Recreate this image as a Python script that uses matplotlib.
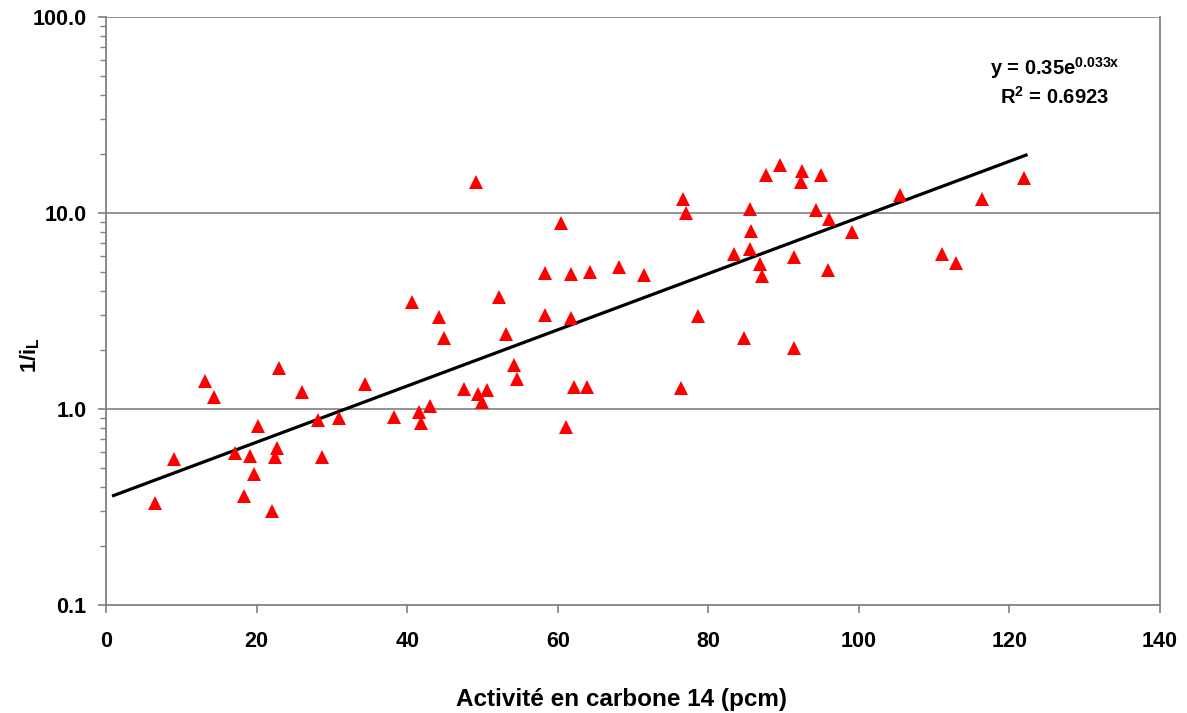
import numpy as np
import matplotlib
matplotlib.use("Agg")
import matplotlib.pyplot as plt
from matplotlib.ticker import FixedLocator, LogLocator, NullFormatter, FixedFormatter

plt.rcParams['font.family'] = ['Liberation Sans', 'DejaVu Sans']
plt.rcParams['mathtext.fontset'] = 'custom'
plt.rcParams['mathtext.rm'] = 'Liberation Sans'
plt.rcParams['mathtext.bf'] = 'Liberation Sans:bold'
plt.rcParams['mathtext.it'] = 'Liberation Sans:italic'

# Data: 14C activity (pcm) vs 1/iL
activite = [6.5, 9.0, 13.1, 14.3, 17.1, 18.3, 19.1, 19.7, 20.2, 22.1,
            22.4, 22.7, 23.0, 26.1, 28.1, 28.7, 30.9, 34.4, 38.2, 40.6,
            41.6, 41.8, 43.0, 44.2, 44.9, 47.5, 49.1, 49.4, 50.0, 50.6,
            52.2, 53.1, 54.2, 54.6, 58.3, 58.3, 60.4, 61.1, 61.7, 61.8,
            62.2, 63.9, 64.3, 68.2, 71.4, 76.4, 76.6, 77.1, 78.7, 83.4,
            84.8, 85.5, 85.7, 85.6, 86.9, 87.2, 87.7, 89.5, 91.4, 91.4,
            92.3, 92.5, 95.0, 94.3, 96.1, 95.9, 99.1, 105.4, 111.0, 112.9,
            116.3, 122.0]
inv_iL = [0.333, 0.554, 1.39, 1.15, 0.598, 0.360, 0.575, 0.464, 0.819, 0.303,
          0.571, 0.630, 1.625, 1.22, 0.879, 0.571, 0.897, 1.34, 0.907, 3.50,
          0.969, 0.845, 1.03, 2.94, 2.30, 1.26, 14.4, 1.19, 1.09, 1.25,
          3.74, 2.41, 1.68, 1.42, 3.02, 4.96, 8.86, 0.812, 2.92, 4.91,
          1.29, 1.30, 5.01, 5.28, 4.83, 1.28, 11.76, 10.03, 2.98, 6.18,
          2.30, 10.48, 8.13, 6.55, 5.49, 4.78, 15.7, 17.6, 5.94, 2.04,
          14.4, 16.3, 15.7, 10.36, 9.29, 5.12, 8.03, 12.4, 6.18, 5.54,
          11.8, 15.1]

# Exponential trendline y = a * exp(b x)
fit_a = 0.35
fit_b = 0.033
fit_x_range = [1.0, 122.2]
equation_text = r'y = 0.35e$^{\mathbf{0.033x}}$'
r2_text = r'R$^{\mathbf{2}}$ = 0.6923'

x_ticks = [0, 20, 40, 60, 80, 100, 120, 140]
y_ticks = [0.1, 1.0, 10.0, 100.0]
y_tick_labels = ['0.1', '1.0', '10.0', '100.0']
x_label = 'Activité en carbone 14 (pcm)'

fig = plt.figure(figsize=(11.87, 7.13), dpi=100)
ax = fig.add_axes([106/1187, 1-605/713, (1160-106)/1187, (605-17)/713])

ax.set_yscale('log')
ax.set_xlim(0, 140)
ax.set_ylim(0.1, 100)

fx = np.linspace(fit_x_range[0], fit_x_range[1], 200)
ax.plot(fx, fit_a*np.exp(fit_b*fx), color='black', lw=2.3, zorder=3)
ax.plot(activite, inv_iL, linestyle='none', marker='^', ms=10.5,
        color='#FF0000', markeredgewidth=0, zorder=4)

ax.yaxis.set_major_locator(FixedLocator(y_ticks))
ax.yaxis.set_major_formatter(FixedFormatter(y_tick_labels))
ax.yaxis.set_minor_locator(LogLocator(base=10, subs=np.arange(2, 10)))
ax.yaxis.set_minor_formatter(NullFormatter())
ax.set_xticks(x_ticks)
ax.set_xticklabels([str(v) for v in x_ticks])

ax.grid(False)
for yv in [1.0, 10.0, 100.0]:
    ax.axhline(yv, color='#808080', lw=1.2, zorder=1)

for s in ['left', 'bottom', 'right']:
    ax.spines[s].set_color('#808080')
    ax.spines[s].set_linewidth(1.3)
ax.spines['top'].set_visible(False)

ax.tick_params(axis='both', which='major', direction='out', length=6, width=1.2,
               color='#808080', labelsize=15.5)
ax.tick_params(axis='y', which='minor', direction='out', length=4, width=1.0,
               color='#808080')
ax.tick_params(axis='y', which='major', pad=8)
ax.tick_params(axis='x', which='major', pad=13)
for lab in ax.get_xticklabels() + ax.get_yticklabels():
    lab.set_fontweight('bold')

ax.set_xlabel(x_label, fontsize=17.5, fontweight='bold')
ax.xaxis.set_label_coords((622-106)/1054, -(688-605)/588)
ax.set_ylabel(r'1/i$_{\mathbf{L}}$', fontsize=16, fontweight='bold')
ax.yaxis.set_label_coords(-(106-42)/1054, (605-355)/588)

ax.text(126, 10**((409-68)/196), equation_text, ha='center', va='center',
        fontsize=14.5, fontweight='bold')
ax.text(126, 10**((409-97)/196), r2_text, ha='center', va='center',
        fontsize=14.5, fontweight='bold')

fig.savefig('out.png', dpi=100)
